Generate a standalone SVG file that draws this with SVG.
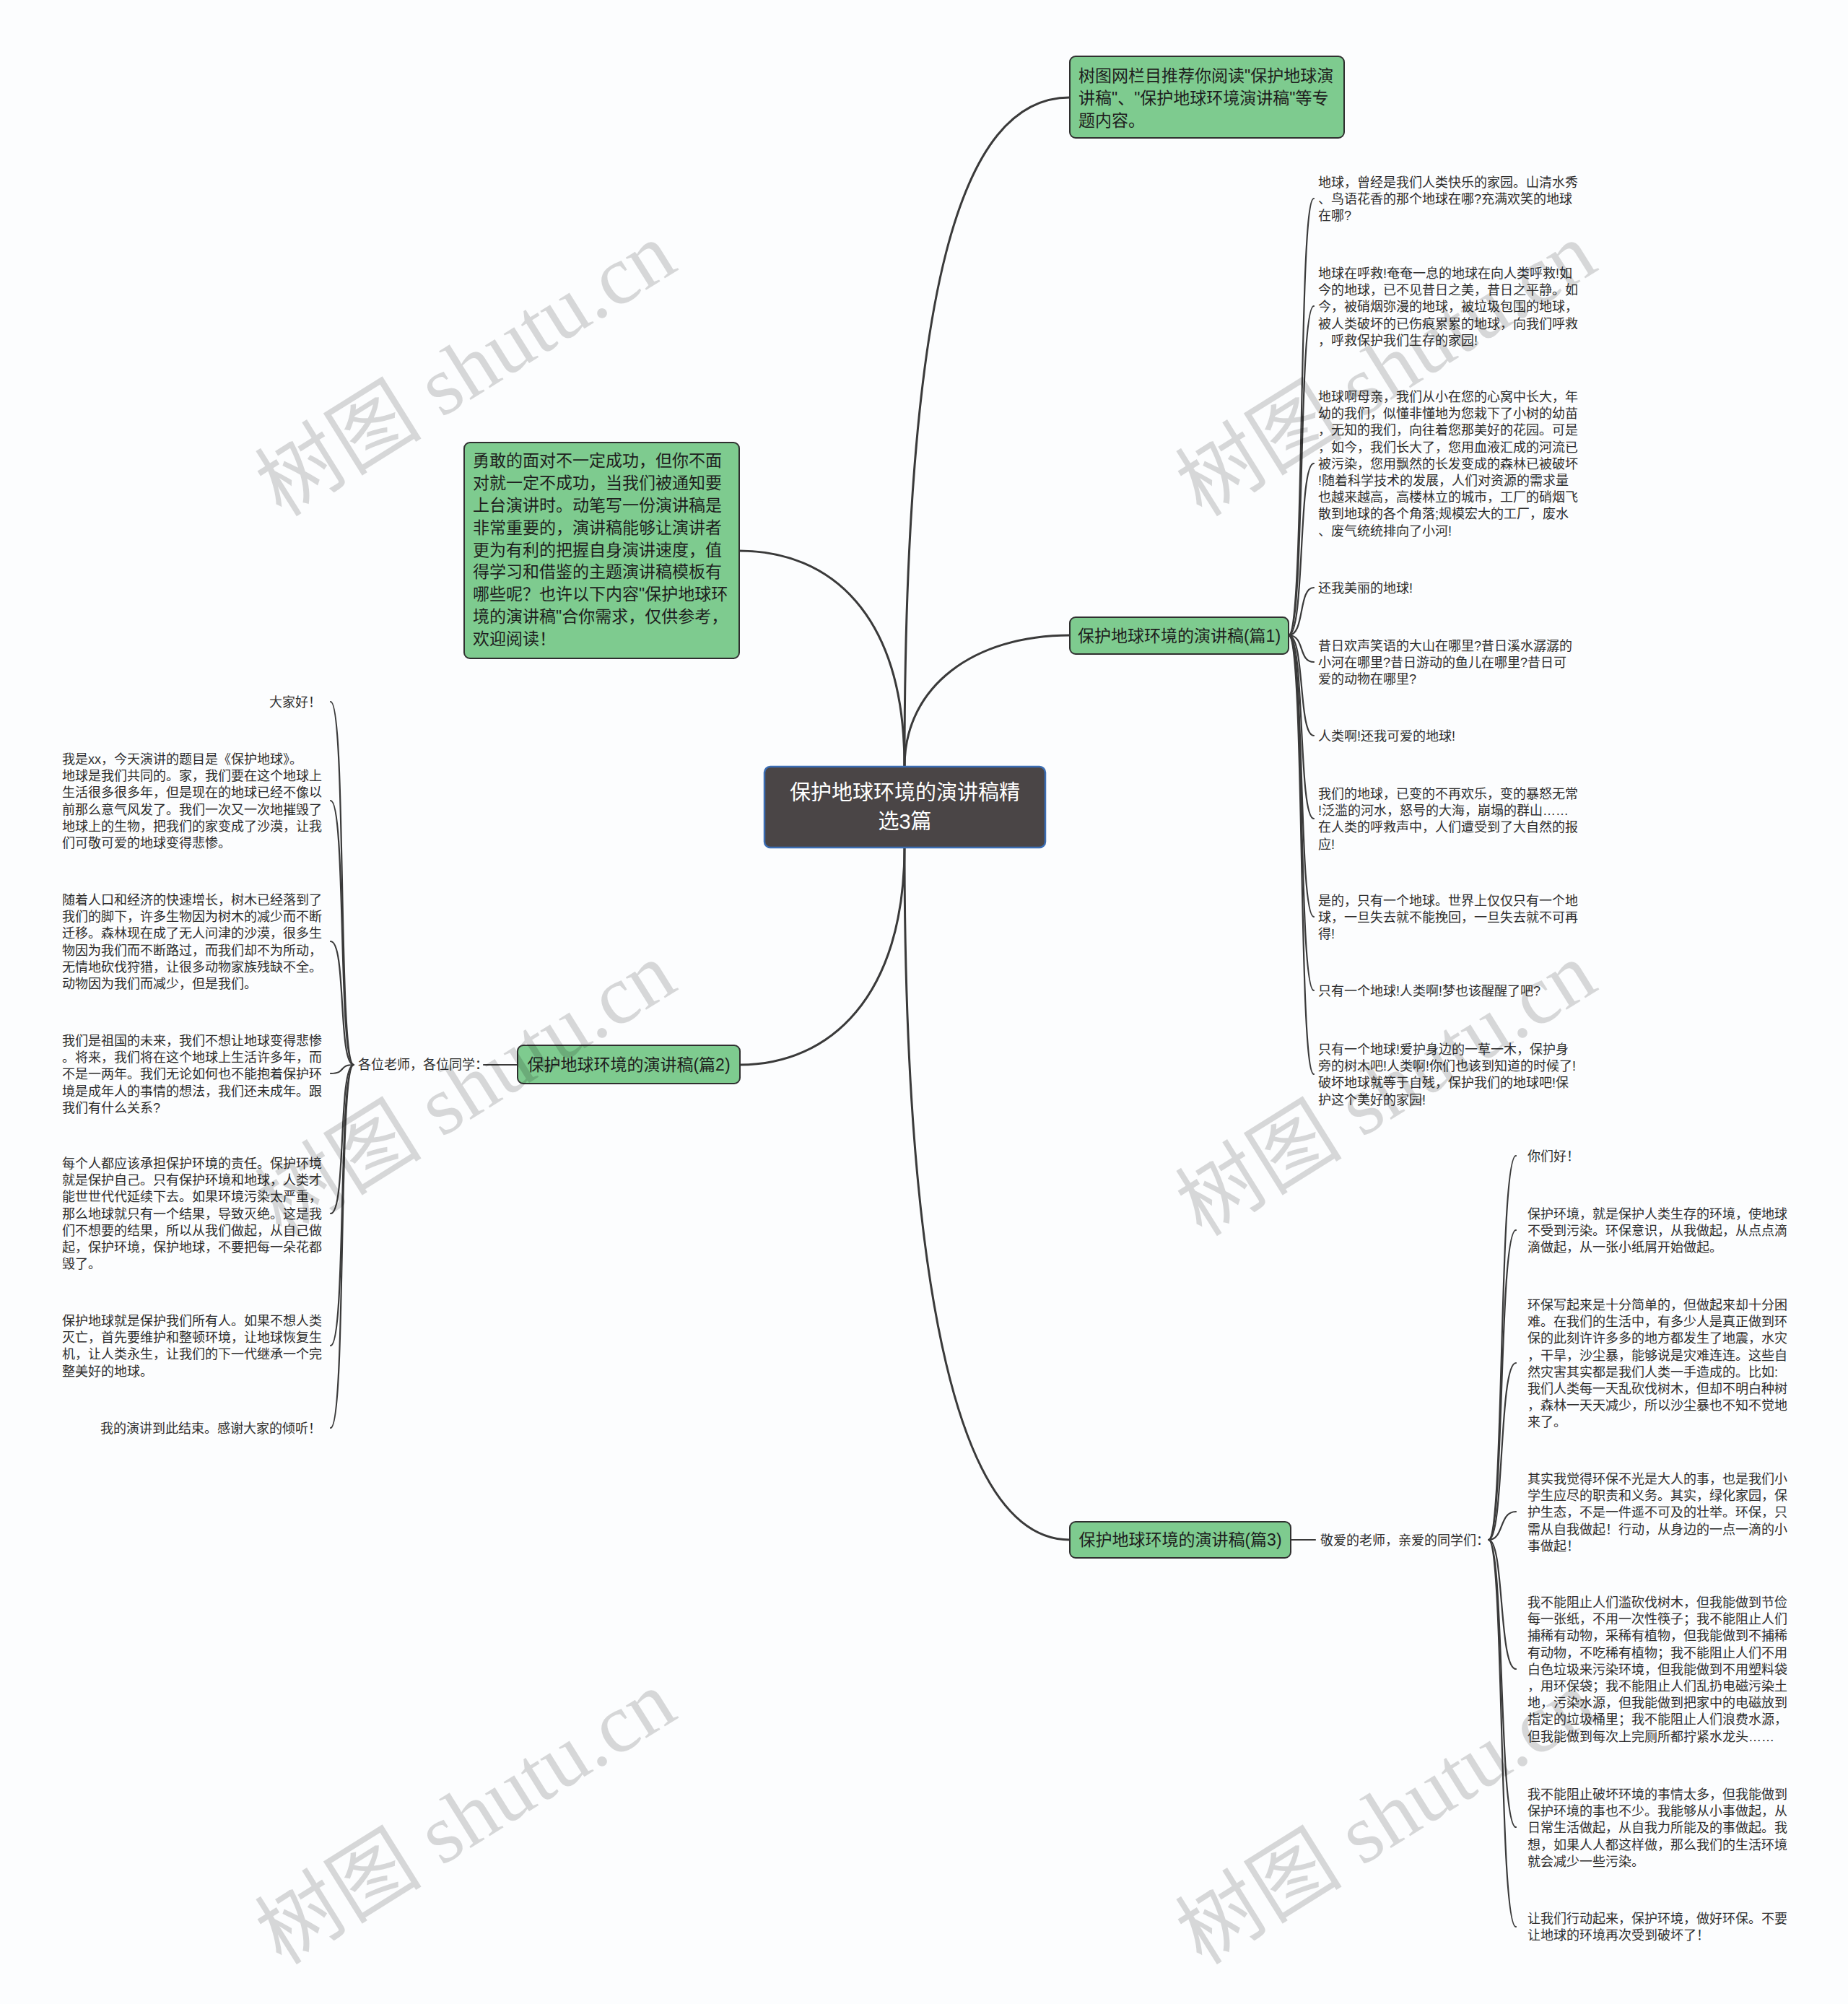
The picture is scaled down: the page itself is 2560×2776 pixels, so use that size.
<svg xmlns="http://www.w3.org/2000/svg" width="2560" height="2776" viewBox="0 0 2560 2776">
<style>
.bg{fill:#fcfdfe}
.conn{fill:none;stroke:#3a3a3a;stroke-width:3;stroke-linecap:round}
.thin{fill:none;stroke:#3a3a3a;stroke-width:2.2;stroke-linecap:round}
.green{fill:#7ecb8f;stroke:#2f2f2f;stroke-width:2}
.center{fill:#4a4546;stroke:#3b6db3;stroke-width:2.5}
.gt{font-family:"Liberation Sans","Noto Sans CJK SC",sans-serif;font-size:23px;fill:#1e1e1e}
.ct{font-family:"Liberation Sans","Noto Sans CJK SC",sans-serif;font-size:29px;fill:#ffffff}
.leaf{font-family:"Liberation Sans","Noto Sans CJK SC",sans-serif;font-size:18px;fill:#2e2e2e}
.wm{font-family:"Liberation Serif","Noto Sans CJK SC",serif;font-size:116px;fill:#000;fill-opacity:0.15}
</style>
<rect class="bg" x="0" y="0" width="2560" height="2776"/>

<g id="connectors">
  <path class="conn" d="M1253 1062 C1253 400,1330 135,1482 135"/>
  <path class="conn" d="M1253 1062 C1253 950,1350 880,1482 880"/>
  <path class="conn" d="M1253 1062 C1253 850,1150 763,1024 763"/>
  <path class="conn" d="M1253 1174 C1253 1380,1150 1475,1025 1475"/>
  <path class="conn" d="M1253 1174 C1253 1800,1330 2133,1482 2133"/>
  <path class="thin" d="M1785 880 C1808 880,1798 275,1820 275"/>
  <path class="thin" d="M1785 880 C1808 880,1798 424,1820 424"/>
  <path class="thin" d="M1785 880 C1808 880,1798 642,1820 642"/>
  <path class="thin" d="M1785 880 C1808 880,1798 814,1820 814"/>
  <path class="thin" d="M1785 880 C1808 880,1798 917,1820 917"/>
  <path class="thin" d="M1785 880 C1808 880,1798 1019,1820 1019"/>
  <path class="thin" d="M1785 880 C1808 880,1798 1134,1820 1134"/>
  <path class="thin" d="M1785 880 C1808 880,1798 1270,1820 1270"/>
  <path class="thin" d="M1785 880 C1808 880,1798 1372,1820 1372"/>
  <path class="thin" d="M1785 880 C1808 880,1798 1488,1820 1488"/>
  <path class="thin" d="M670 1475 L717 1475"/>
  <path class="thin" d="M490 1475 C468 1475,480 972,458 972"/>
  <path class="thin" d="M490 1475 C468 1475,480 1109,458 1109"/>
  <path class="thin" d="M490 1475 C468 1475,480 1304,458 1304"/>
  <path class="thin" d="M490 1475 C468 1475,480 1487,458 1487"/>
  <path class="thin" d="M490 1475 C468 1475,480 1681,458 1681"/>
  <path class="thin" d="M490 1475 C468 1475,480 1864,458 1864"/>
  <path class="thin" d="M490 1475 C468 1475,480 1978,458 1978"/>
  <path class="thin" d="M1788 2133 L1822 2133"/>
  <path class="thin" d="M2062 2133 C2084 2133,2076 1601,2100 1601"/>
  <path class="thin" d="M2062 2133 C2084 2133,2076 1704,2100 1704"/>
  <path class="thin" d="M2062 2133 C2084 2133,2076 1888,2100 1888"/>
  <path class="thin" d="M2062 2133 C2084 2133,2076 2094,2100 2094"/>
  <path class="thin" d="M2062 2133 C2084 2133,2076 2312,2100 2312"/>
  <path class="thin" d="M2062 2133 C2084 2133,2076 2531,2100 2531"/>
  <path class="thin" d="M2062 2133 C2084 2133,2076 2669,2100 2669"/>
</g>

<g id="root">
  <rect class="center" x="1059" y="1062" width="389" height="112" rx="8"/>
  <text class="ct" text-anchor="middle"><tspan x="1253.5" y="1108">保护地球环境的演讲稿精</tspan><tspan x="1253.5" y="1148">选3篇</tspan></text>
</g>

<g id="intro-top">
  <rect class="green" x="1482" y="78" width="380" height="113" rx="8"/>
  <text class="gt"><tspan x="1494" y="113">树图网栏目推荐你阅读"保护地球演</tspan><tspan x="1494" y="144">讲稿"、"保护地球环境演讲稿"等专</tspan><tspan x="1494" y="175">题内容。</tspan></text>
</g>

<g id="intro-left">
  <rect class="green" x="643" y="613" width="381" height="299" rx="8"/>
  <text class="gt"><tspan x="655" y="646">勇敢的面对不一定成功，但你不面</tspan><tspan x="655" y="677">对就一定不成功，当我们被通知要</tspan><tspan x="655" y="708">上台演讲时。动笔写一份演讲稿是</tspan><tspan x="655" y="739">非常重要的，演讲稿能够让演讲者</tspan><tspan x="655" y="770">更为有利的把握自身演讲速度，值</tspan><tspan x="655" y="800">得学习和借鉴的主题演讲稿模板有</tspan><tspan x="655" y="831">哪些呢？也许以下内容"保护地球环</tspan><tspan x="655" y="862">境的演讲稿"合你需求，仅供参考，</tspan><tspan x="655" y="893">欢迎阅读！</tspan></text>
</g>

<g id="branch1">
  <rect class="green" x="1482" y="855" width="303" height="51" rx="8"/>
  <text class="gt" x="1633.5" y="889" text-anchor="middle">保护地球环境的演讲稿(篇1)</text>
</g>
<g id="branch2">
  <rect class="green" x="717" y="1448" width="308" height="53" rx="8"/>
  <text class="gt" x="871" y="1483" text-anchor="middle">保护地球环境的演讲稿(篇2)</text>
</g>
<g id="branch3">
  <rect class="green" x="1482" y="2108" width="306" height="50" rx="8"/>
  <text class="gt" x="1635" y="2141" text-anchor="middle">保护地球环境的演讲稿(篇3)</text>
</g>

<g id="b2-label"><text class="leaf" x="496" y="1481">各位老师，各位同学：</text></g>
<g id="b3-label"><text class="leaf" x="1829" y="2140">敬爱的老师，亲爱的同学们：</text></g>

<g id="b1-leaves" class="leaf">
  <text><tspan x="1826" y="259">地球，曾经是我们人类快乐的家园。山清水秀</tspan><tspan x="1826" dy="23.2">、鸟语花香的那个地球在哪?充满欢笑的地球</tspan><tspan x="1826" dy="23.2">在哪?</tspan></text>
  <text><tspan x="1826" y="385">地球在呼救!奄奄一息的地球在向人类呼救!如</tspan><tspan x="1826" dy="23.2">今的地球，已不见昔日之美，昔日之平静。如</tspan><tspan x="1826" dy="23.2">今，被硝烟弥漫的地球，被垃圾包围的地球，</tspan><tspan x="1826" dy="23.2">被人类破坏的已伤痕累累的地球，向我们呼救</tspan><tspan x="1826" dy="23.2">，呼救保护我们生存的家园!</tspan></text>
  <text><tspan x="1826" y="556">地球啊母亲，我们从小在您的心窝中长大，年</tspan><tspan x="1826" dy="23.2">幼的我们，似懂非懂地为您栽下了小树的幼苗</tspan><tspan x="1826" dy="23.2">，无知的我们，向往着您那美好的花园。可是</tspan><tspan x="1826" dy="23.2">，如今，我们长大了，您用血液汇成的河流已</tspan><tspan x="1826" dy="23.2">被污染，您用飘然的长发变成的森林已被破坏</tspan><tspan x="1826" dy="23.2">!随着科学技术的发展，人们对资源的需求量</tspan><tspan x="1826" dy="23.2">也越来越高，高楼林立的城市，工厂的硝烟飞</tspan><tspan x="1826" dy="23.2">散到地球的各个角落;规模宏大的工厂，废水</tspan><tspan x="1826" dy="23.2">、废气统统排向了小河!</tspan></text>
  <text x="1826" y="821">还我美丽的地球!</text>
  <text><tspan x="1826" y="901">昔日欢声笑语的大山在哪里?昔日溪水潺潺的</tspan><tspan x="1826" dy="23.2">小河在哪里?昔日游动的鱼儿在哪里?昔日可</tspan><tspan x="1826" dy="23.2">爱的动物在哪里?</tspan></text>
  <text x="1826" y="1026">人类啊!还我可爱的地球!</text>
  <text><tspan x="1826" y="1106">我们的地球，已变的不再欢乐，变的暴怒无常</tspan><tspan x="1826" dy="23.2">!泛滥的河水，怒号的大海，崩塌的群山……</tspan><tspan x="1826" dy="23.2">在人类的呼救声中，人们遭受到了大自然的报</tspan><tspan x="1826" dy="23.2">应!</tspan></text>
  <text><tspan x="1826" y="1254">是的，只有一个地球。世界上仅仅只有一个地</tspan><tspan x="1826" dy="23.2">球，一旦失去就不能挽回，一旦失去就不可再</tspan><tspan x="1826" dy="23.2">得!</tspan></text>
  <text x="1826" y="1379">只有一个地球!人类啊!梦也该醒醒了吧?</text>
  <text><tspan x="1826" y="1460">只有一个地球!爱护身边的一草一木，保护身</tspan><tspan x="1826" dy="23.2">旁的树木吧!人类啊!你们也该到知道的时候了!</tspan><tspan x="1826" dy="23.2">破坏地球就等于自残，保护我们的地球吧!保</tspan><tspan x="1826" dy="23.2">护这个美好的家园!</tspan></text>
</g>

<g id="b2-leaves" class="leaf">
  <text x="445" y="979" text-anchor="end">大家好！</text>
  <text><tspan x="86" y="1058">我是xx，今天演讲的题目是《保护地球》。</tspan><tspan x="86" dy="23.2">地球是我们共同的。家，我们要在这个地球上</tspan><tspan x="86" dy="23.2">生活很多很多年，但是现在的地球已经不像以</tspan><tspan x="86" dy="23.2">前那么意气风发了。我们一次又一次地摧毁了</tspan><tspan x="86" dy="23.2">地球上的生物，把我们的家变成了沙漠，让我</tspan><tspan x="86" dy="23.2">们可敬可爱的地球变得悲惨。</tspan></text>
  <text><tspan x="86" y="1253">随着人口和经济的快速增长，树木已经落到了</tspan><tspan x="86" dy="23.2">我们的脚下，许多生物因为树木的减少而不断</tspan><tspan x="86" dy="23.2">迁移。森林现在成了无人问津的沙漠，很多生</tspan><tspan x="86" dy="23.2">物因为我们而不断路过，而我们却不为所动，</tspan><tspan x="86" dy="23.2">无情地砍伐狩猎，让很多动物家族残缺不全。</tspan><tspan x="86" dy="23.2">动物因为我们而减少，但是我们。</tspan></text>
  <text><tspan x="86" y="1448">我们是祖国的未来，我们不想让地球变得悲惨</tspan><tspan x="86" dy="23.2">。将来，我们将在这个地球上生活许多年，而</tspan><tspan x="86" dy="23.2">不是一两年。我们无论如何也不能抱着保护环</tspan><tspan x="86" dy="23.2">境是成年人的事情的想法，我们还未成年。跟</tspan><tspan x="86" dy="23.2">我们有什么关系?</tspan></text>
  <text><tspan x="86" y="1618">每个人都应该承担保护环境的责任。保护环境</tspan><tspan x="86" dy="23.2">就是保护自己。只有保护环境和地球，人类才</tspan><tspan x="86" dy="23.2">能世世代代延续下去。如果环境污染太严重，</tspan><tspan x="86" dy="23.2">那么地球就只有一个结果，导致灭绝。这是我</tspan><tspan x="86" dy="23.2">们不想要的结果，所以从我们做起，从自己做</tspan><tspan x="86" dy="23.2">起，保护环境，保护地球，不要把每一朵花都</tspan><tspan x="86" dy="23.2">毁了。</tspan></text>
  <text><tspan x="86" y="1836">保护地球就是保护我们所有人。如果不想人类</tspan><tspan x="86" dy="23.2">灭亡，首先要维护和整顿环境，让地球恢复生</tspan><tspan x="86" dy="23.2">机，让人类永生，让我们的下一代继承一个完</tspan><tspan x="86" dy="23.2">整美好的地球。</tspan></text>
  <text x="445" y="1985" text-anchor="end">我的演讲到此结束。感谢大家的倾听！</text>
</g>

<g id="b3-leaves" class="leaf">
  <text x="2116" y="1608">你们好！</text>
  <text><tspan x="2116" y="1688">保护环境，就是保护人类生存的环境，使地球</tspan><tspan x="2116" dy="23.2">不受到污染。环保意识，从我做起，从点点滴</tspan><tspan x="2116" dy="23.2">滴做起，从一张小纸屑开始做起。</tspan></text>
  <text><tspan x="2116" y="1814">环保写起来是十分简单的，但做起来却十分困</tspan><tspan x="2116" dy="23.2">难。在我们的生活中，有多少人是真正做到环</tspan><tspan x="2116" dy="23.2">保的此刻许许多多的地方都发生了地震，水灾</tspan><tspan x="2116" dy="23.2">，干旱，沙尘暴，能够说是灾难连连。这些自</tspan><tspan x="2116" dy="23.2">然灾害其实都是我们人类一手造成的。比如:</tspan><tspan x="2116" dy="23.2">我们人类每一天乱砍伐树木，但却不明白种树</tspan><tspan x="2116" dy="23.2">，森林一天天减少，所以沙尘暴也不知不觉地</tspan><tspan x="2116" dy="23.2">来了。</tspan></text>
  <text><tspan x="2116" y="2055">其实我觉得环保不光是大人的事，也是我们小</tspan><tspan x="2116" dy="23.2">学生应尽的职责和义务。其实，绿化家园，保</tspan><tspan x="2116" dy="23.2">护生态，不是一件遥不可及的壮举。环保，只</tspan><tspan x="2116" dy="23.2">需从自我做起！行动，从身边的一点一滴的小</tspan><tspan x="2116" dy="23.2">事做起！</tspan></text>
  <text><tspan x="2116" y="2226">我不能阻止人们滥砍伐树木，但我能做到节俭</tspan><tspan x="2116" dy="23.2">每一张纸，不用一次性筷子；我不能阻止人们</tspan><tspan x="2116" dy="23.2">捕稀有动物，采稀有植物，但我能做到不捕稀</tspan><tspan x="2116" dy="23.2">有动物，不吃稀有植物；我不能阻止人们不用</tspan><tspan x="2116" dy="23.2">白色垃圾来污染环境，但我能做到不用塑料袋</tspan><tspan x="2116" dy="23.2">，用环保袋；我不能阻止人们乱扔电磁污染土</tspan><tspan x="2116" dy="23.2">地，污染水源，但我能做到把家中的电磁放到</tspan><tspan x="2116" dy="23.2">指定的垃圾桶里；我不能阻止人们浪费水源，</tspan><tspan x="2116" dy="23.2">但我能做到每次上完厕所都拧紧水龙头……</tspan></text>
  <text><tspan x="2116" y="2492">我不能阻止破坏环境的事情太多，但我能做到</tspan><tspan x="2116" dy="23.2">保护环境的事也不少。我能够从小事做起，从</tspan><tspan x="2116" dy="23.2">日常生活做起，从自我力所能及的事做起。我</tspan><tspan x="2116" dy="23.2">想，如果人人都这样做，那么我们的生活环境</tspan><tspan x="2116" dy="23.2">就会减少一些污染。</tspan></text>
  <text><tspan x="2116" y="2664">让我们行动起来，保护环境，做好环保。不要</tspan><tspan x="2116" dy="23.2">让地球的环境再次受到破坏了！</tspan></text>
</g>

<g id="watermarks" class="wm" text-anchor="middle">
  <text transform="translate(666,545) rotate(-32)">树图 shutu.cn</text>
  <text transform="translate(1941,545) rotate(-32)">树图 shutu.cn</text>
  <text transform="translate(666,1542) rotate(-32)">树图 shutu.cn</text>
  <text transform="translate(1941,1542) rotate(-32)">树图 shutu.cn</text>
  <text transform="translate(666,2551) rotate(-32)">树图 shutu.cn</text>
  <text transform="translate(1941,2551) rotate(-32)">树图 shutu.cn</text>
</g>
</svg>
